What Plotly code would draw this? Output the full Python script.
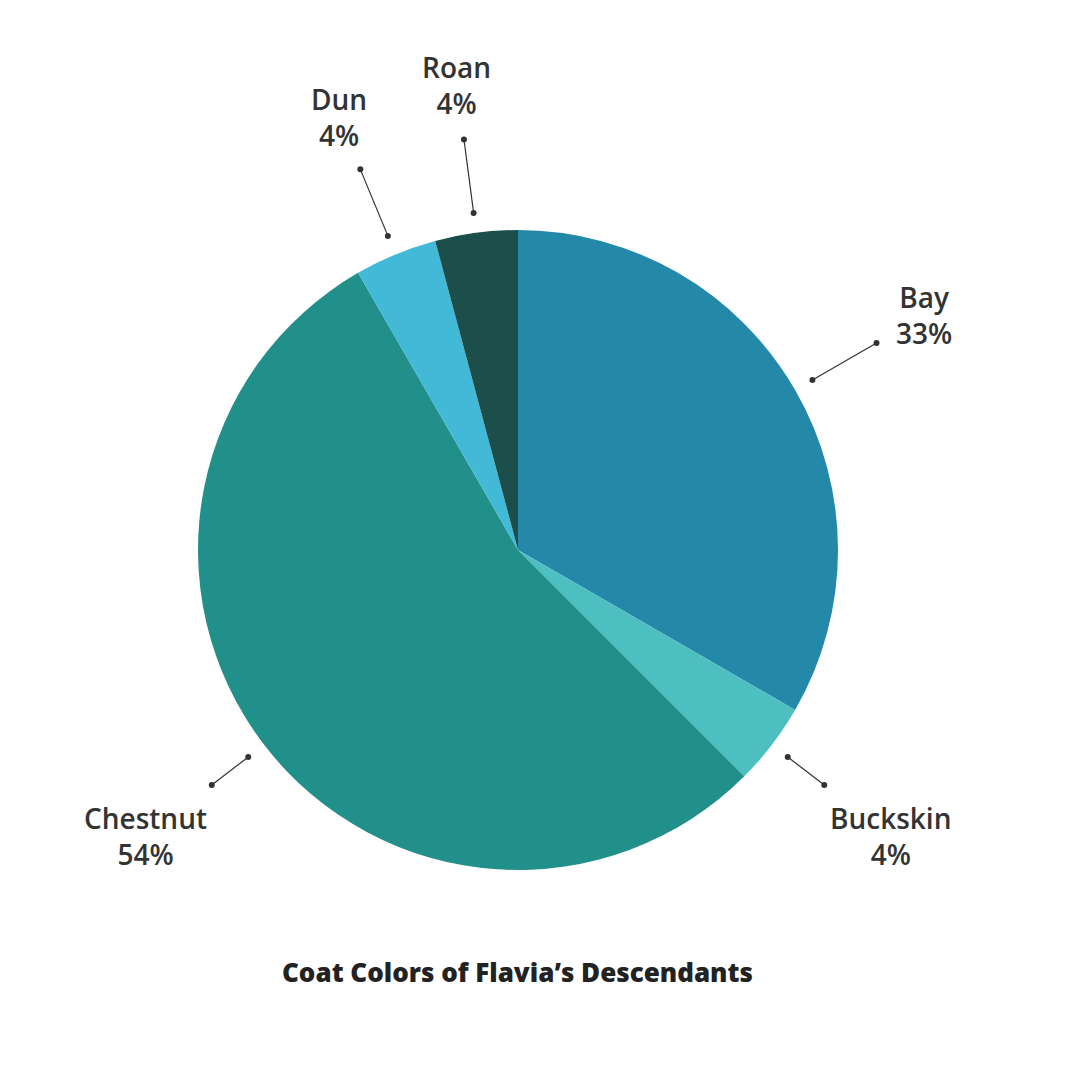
import math
import plotly.graph_objects as go

# --- Données ---
coats = ["Bay", "Buckskin", "Chestnut", "Dun", "Roan"]
counts = [8, 1, 13, 1, 1]
slice_colors = ["#2489A9", "#4EBFC1", "#21908A", "#42B9D6", "#1C4F4C"]

# --- Mise en page ---
W = H = 1071
OFF = 8                    # marge de la page html
CX, CY = 518 - OFF, 550 - OFF   # centre du camembert (px, depuis le haut)
R = 320                    # rayon (px)
lead_in = 340              # point intérieur du trait
lead_out = [414, 386, 386, 412, 414]
label_r = 469
TEXT = "#333333"
FONT = "Open Sans"

fig = go.Figure(go.Pie(
    labels=coats,
    values=counts,
    sort=False,
    direction="clockwise",
    rotation=0,
    textinfo="none",
    hoverinfo="skip",
    marker=dict(colors=slice_colors, line=dict(width=0)),
    domain=dict(x=[(CX - R) / W, (CX + R) / W],
                y=[(H - CY - R) / H, (H - CY + R) / H]),
    showlegend=False,
))

def px_to_paper(x, y):
    return x / W, 1 - y / H

total = sum(counts)
shapes, annots = [], []
cum = 0
for name, v, lo in zip(coats, counts, lead_out):
    mid = (cum + v / 2) / total * 2 * math.pi
    cum += v
    sx, sy = math.sin(mid), -math.cos(mid)
    x0, y0 = px_to_paper(CX + lead_in * sx, CY + lead_in * sy)
    x1, y1 = px_to_paper(CX + lo * sx, CY + lo * sy)
    shapes.append(dict(type="line", xref="paper", yref="paper",
                       x0=x0, y0=y0, x1=x1, y1=y1,
                       line=dict(color=TEXT, width=1.2)))
    for (xx, yy) in [(x0, y0), (x1, y1)]:
        d = 3 / W
        shapes.append(dict(type="circle", xref="paper", yref="paper",
                           x0=xx - d, x1=xx + d, y0=yy - d, y1=yy + d,
                           fillcolor=TEXT, line=dict(width=0)))
    lx, ly = px_to_paper(CX + label_r * sx, CY + label_r * sy)
    annots.append(dict(x=lx, y=ly, xref="paper", yref="paper",
                       text=f"{name}<br>{round(100 * v / total)}%",
                       showarrow=False, xanchor="center", yanchor="middle",
                       font=dict(family=FONT, size=28, color=TEXT, weight=600)))

tx, ty = px_to_paper(517 - OFF, 972 - OFF)
annots.append(dict(x=tx, y=ty, xref="paper", yref="paper",
                   text="Coat Colors of Flavia’s Descendants",
                   showarrow=False, xanchor="center", yanchor="middle",
                   font=dict(family=FONT, size=26, color="#222222", weight=800)))

fig.update_layout(
    width=W, height=H,
    margin=dict(l=0, r=0, t=0, b=0),
    paper_bgcolor="white",
    plot_bgcolor="white",
    shapes=shapes,
    annotations=annots,
)

fig.write_html("out.html")
